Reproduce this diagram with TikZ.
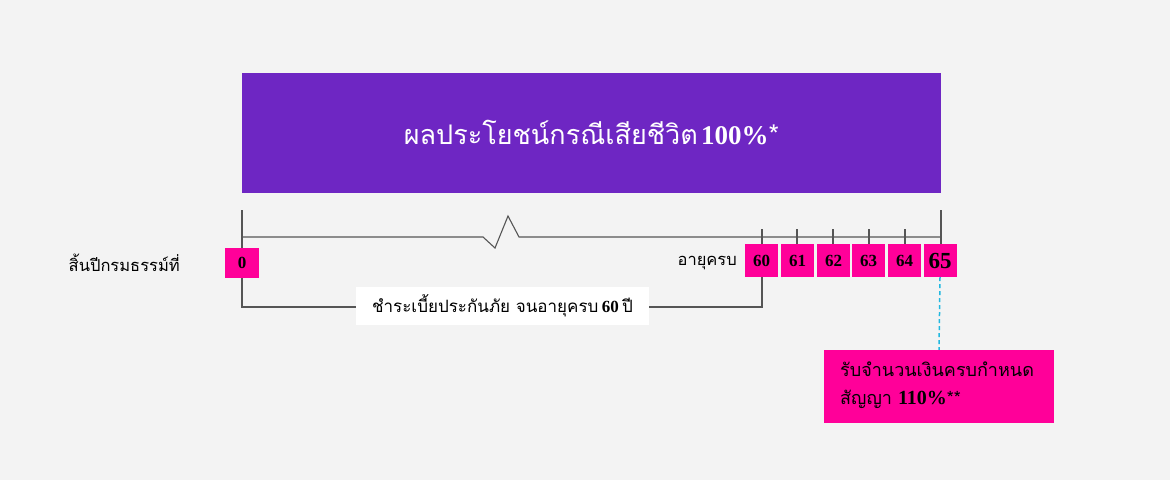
\documentclass[tikz,border=0pt]{standalone}
\usepackage{fontspec}
\newfontfamily\thai[Script=Thai]{Loma}
\newfontfamily\numf{Liberation Serif}
\definecolor{bgc}{HTML}{F3F3F3}
\definecolor{purp}{HTML}{6E26C3}
\definecolor{pinkc}{HTML}{FF0099}
\definecolor{linec}{HTML}{555555}
\definecolor{cyanc}{HTML}{22B8E0}
\tikzset{
  tl/.style={draw=linec, line width=1.1pt},
  agebox/.style={fill=pinkc, minimum width=33pt, minimum height=33pt, inner sep=0pt, font=\numf\bfseries\fontsize{17}{17}\selectfont},
  lbl/.style={font=\thai\fontsize{16.5}{18}\selectfont, text=black, inner sep=0pt}
}
\begin{document}
\begin{tikzpicture}[x=1pt,y=-1pt]
\useasboundingbox (0,0) rectangle (1170,480);
\fill[bgc] (0,0) rectangle (1170,480);
% timeline lines
\draw[tl] (242,210) -- (242,307) -- (762,307) -- (762,277);
\draw[tl] (242,237) -- (483,237) -- (495,248) -- (508,216) -- (519,237) -- (941,237);
\draw[tl] (941,210) -- (941,262);
\foreach \x in {762,797,833,869,905} \draw[tl] (\x,229) -- (\x,250);
% banner
\node[fill=purp, minimum width=699pt, minimum height=120pt, inner sep=0pt, text=white] (ben) at (591.5,133)
  {{\thai\fontsize{27}{30}\selectfont ผลประโยชน์กรณีเสียชีวิต} {\numf\bfseries\fontsize{27}{30}\selectfont 100\%}{\thai\fontsize{27}{30}\selectfont *}};
% labels
\node[lbl, anchor=east] (lyear) at (180,263) {สิ้นปีกรมธรรม์ที่};
\node[lbl, anchor=east] (lage) at (737,263) {อายุครบ};
% boxes
\node[agebox, minimum width=34pt, minimum height=30pt] (a0) at (242,263) {0};
\node[agebox] (a60) at (761.5,260.5) {60};
\node[agebox] (a61) at (797.5,260.5) {61};
\node[agebox] (a62) at (833.5,260.5) {62};
\node[agebox] (a63) at (868.5,260.5) {63};
\node[agebox] (a64) at (904.5,260.5) {64};
\node[agebox, font=\numf\bfseries\fontsize{23}{23}\selectfont] (a65) at (940,260.5) {65};
% pay label
\node[fill=white, minimum width=293pt, minimum height=38pt, inner sep=0pt] (pay) at (502.5,306)
  {{\thai\fontsize{17}{18}\selectfont ชำระเบี้ยประกันภัย จนอายุครบ} {\numf\bfseries\fontsize{17}{18}\selectfont 60} {\thai\fontsize{17}{18}\selectfont ปี}};
% maturity box
\node[fill=pinkc, minimum width=230pt, minimum height=73pt, inner sep=0pt] (mat) at (939,386.5) {};
\node[anchor=north west, align=left, inner sep=0pt, font=\thai\fontsize{18}{28}\selectfont] (mattext) at (840,362)
  {รับจำนวนเงินครบกำหนด\\สัญญา {\numf\bfseries\fontsize{20}{28}\selectfont 110\%}**};
\draw[cyanc, line width=1.5pt, dash pattern=on 4pt off 3pt] (a65.south) -- (mat.north);
\end{tikzpicture}
\end{document}
